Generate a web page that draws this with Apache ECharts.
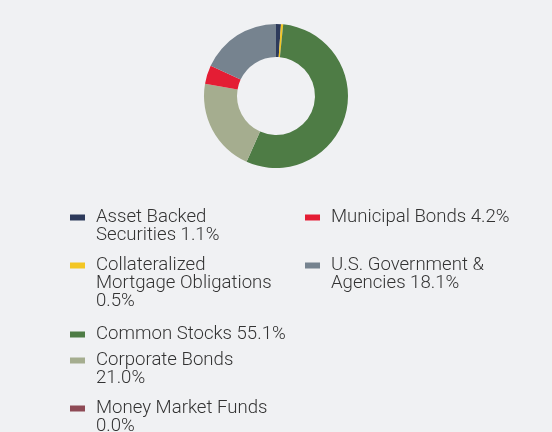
<!DOCTYPE html>
<html>
<head>
<meta charset="utf-8">
<script src="https://cdn.jsdelivr.net/npm/echarts@6/dist/echarts.min.js"></script>
<style>
html,body{margin:0;padding:0;background:#f0f1f3;}
#c{width:552px;height:432px;}
</style>
</head>
<body>
<div id="c"></div>
<script>
const categories = ['Asset Backed Securities','Collateralized Mortgage Obligations','Common Stocks','Corporate Bonds','Money Market Funds','Municipal Bonds','U.S. Government & Agencies'];
const values = [1.1, 0.5, 55.1, 21.0, 0.0, 4.2, 18.1];
const colors = ['#2d3a5b','#f3c623','#4e7c45','#a5ad8f','#8e4a55','#e41d34','#76838f'];
const legendLines = [
  ['Asset Backed','Securities 1.1%'],
  ['Collateralized','Mortgage Obligations','0.5%'],
  ['Common Stocks 55.1%'],
  ['Corporate Bonds','21.0%'],
  ['Money Market Funds','0.0%'],
  ['Municipal Bonds 4.2%'],
  ['U.S. Government &','Agencies 18.1%']
];

const LH = 18;
// first-line centre of each legend item and its column x
const itemPos = [
  [70, 217],[70, 265],[70, 334],[70, 360],[70, 408],
  [305, 217],[305, 265]
];

const legends = categories.map((name, i) => {
  const n = legendLines[i].length;
  // leading blank lines keep the marker level with the first text line
  const text = new Array(n - 1).fill('').concat(legendLines[i]).join('\n');
  return {
    data: [name],
    orient: 'vertical',
    left: itemPos[i][0],
    top: itemPos[i][1] - LH / 2 - (n - 1) * LH,
    padding: 0,
    itemWidth: 15,
    itemHeight: 6,
    icon: 'rect',
    selectedMode: false,
    formatter: () => text,
    textStyle: {
      fontFamily: 'Roboto',
      fontSize: 18.6,
      fontWeight: 300,
      color: '#333333',
      lineHeight: LH,
      padding: [0, 0, 0, 6]
    }
  };
});

const chart = echarts.init(document.getElementById('c'));
chart.setOption({
  backgroundColor: '#f0f1f3',
  animation: false,
  color: colors,
  legend: legends,
  series: [{
    type: 'pie',
    center: [276, 96],
    radius: [39, 72],
    startAngle: 90,
    clockwise: true,
    label: { show: false },
    labelLine: { show: false },
    emphasis: { disabled: true },
    data: categories.map((c, i) => ({ name: c, value: values[i] }))
  }]
});
</script>
</body>
</html>
